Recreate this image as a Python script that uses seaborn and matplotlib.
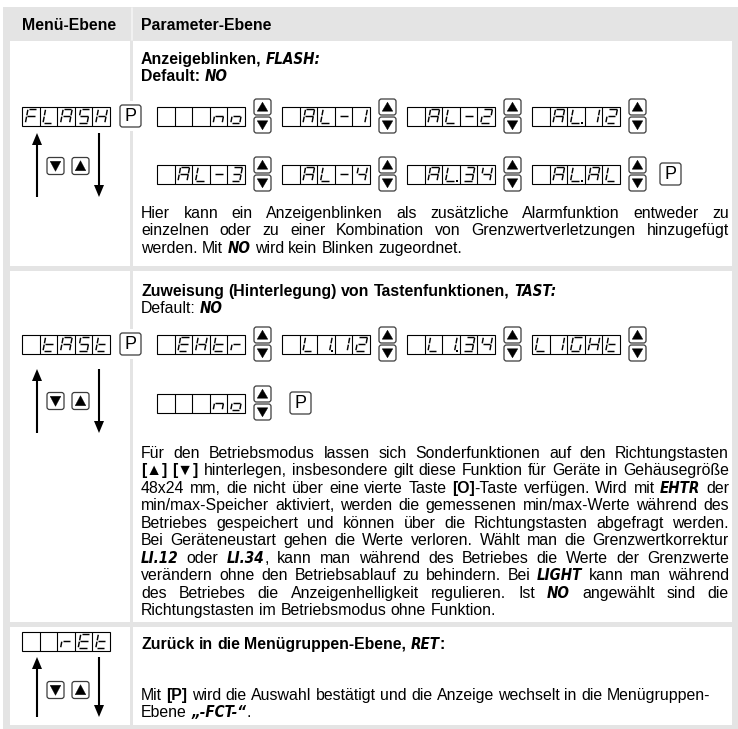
import matplotlib
matplotlib.use("Agg")
import math
import matplotlib.pyplot as plt
import seaborn as sns
from matplotlib import font_manager
from matplotlib.patches import Rectangle, FancyBboxPatch, Polygon

sns.set_theme(style="white")
plt.rcParams["font.family"] = ["Liberation Sans", "DejaVu Sans"]

# ---- page content ----
HEADERS = ["Menü-Ebene", "Parameter-Ebene"]

FLASH_TITLE = ["Anzeigeblinken, §FLASH:§", "Default: §NO§"]
FLASH_MENU = "FLASH"
FLASH_ROW_1 = ["   no", " AL-1", " AL-2", " AL.12"]
FLASH_ROW_2 = [" AL-3", " AL-4", " AL.34", " AL.AL"]
FLASH_TEXT = [
    "Hier kann ein Anzeigenblinken als zusätzliche Alarmfunktion entweder zu",
    "einzelnen oder zu einer Kombination von Grenzwertverletzungen hinzugefügt",
    "werden. Mit §NO§ wird kein Blinken zugeordnet.",
]

TAST_TITLE = ["Zuweisung (Hinterlegung) von Tastenfunktionen, §TAST:§"]
TAST_DEFAULT = "Default: §NO§"
TAST_MENU = " tASt"
TAST_ROW_1 = [" EHtr", " LI.12", " LI.34", "LIGHt"]
TAST_ROW_2 = ["   no"]
TAST_TEXT = [
    "Für den Betriebsmodus lassen sich Sonderfunktionen auf den Richtungstasten",
    "#[▲]# #[▼]# hinterlegen, insbesondere gilt diese Funktion für Geräte in Gehäusegröße",
    "48x24 mm, die nicht über eine vierte Taste #[O]#-Taste verfügen. Wird mit §EHTR§ der",
    "min/max-Speicher aktiviert, werden die gemessenen min/max-Werte während des",
    "Betriebes gespeichert und können über die Richtungstasten abgefragt werden.",
    "Bei Geräteneustart gehen die Werte verloren. Wählt man die Grenzwertkorrektur",
    "§LI.12§ oder §LI.34§, kann man während des Betriebes die Werte der Grenzwerte",
    "verändern ohne den Betriebsablauf zu behindern. Bei §LIGHT§ kann man während",
    "des Betriebes die Anzeigenhelligkeit regulieren. Ist §NO§ angewählt sind die",
    "Richtungstasten im Betriebsmodus ohne Funktion.",
]

RET_TITLE = ["Zurück in die Menügruppen-Ebene, §RET§:"]
RET_MENU = "  rEt"
RET_TEXT = [
    "Mit #[P]# wird die Auswahl bestätigt und die Anzeige wechselt in die Menügruppen-",
    "Ebene §„-FCT-“§.",
]

# seven segment glyphs
SEGS = {
    "a": ((0, 0), (1, 0)), "b": ((1, 0), (1, .5)), "c": ((1, .5), (1, 1)),
    "d": ((0, 1), (1, 1)), "e": ((0, .5), (0, 1)), "f": ((0, 0), (0, .5)),
    "g": ((0, .5), (1, .5)),
}
GLYPHS = {
    "F": "afeg", "L": "fed", "A": "abcefg", "S": "afgcd", "H": "bcefg",
    "n": "ceg", "o": "cdeg", "-": "g", "1": "bc", "I": "bc", "2": "abged",
    "3": "abgcd", "4": "fgbc", "t": "defg", "E": "adefg", "r": "eg", "G": "acdef",
}

W, H = 738, 729
FS = 11.4
LEFT, RIGHT = 141, 729
LINE = 17.5
GRAY = "#e4e4e4"

names = {f.name for f in font_manager.fontManager.ttflist}
if "Liberation Sans Narrow" in names:
    SEG_FONT = dict(family="Liberation Sans Narrow")
else:
    SEG_FONT = dict(family="DejaVu Sans", fontstretch="condensed")

fig = plt.figure(figsize=(W / 100, H / 100), dpi=100)
ax = fig.add_axes([0, 0, 1, 1])
ax.set_xlim(0, W)
ax.set_ylim(H, 0)
ax.axis("off")
renderer = fig.canvas.get_renderer()


def props(bold, seg):
    if seg:
        return dict(fontsize=FS - 0.5, fontweight="bold", fontstyle="italic", **SEG_FONT)
    return dict(fontsize=FS, fontweight="bold" if bold else "normal")


def text_width(s, p):
    t = ax.text(0, 0, s, **p)
    w = t.get_window_extent(renderer).width
    t.remove()
    return w


SPACE = text_width("x x", props(False, False)) - text_width("xx", props(False, False))


def parse_words(line, bold):
    words, seg = [], False
    for word in line.split(" "):
        runs, buf = [], ""
        for ch in word:
            if ch in "#§":
                if buf:
                    runs.append((buf, props(bold, seg)))
                buf = ""
                if ch == "#":
                    bold = not bold
                else:
                    seg = not seg
            else:
                buf += ch
        if buf:
            runs.append((buf, props(bold, seg)))
        words.append(runs)
    return words


def draw_line(x, yc, line, bold=False, justify=False):
    words = parse_words(line, bold)
    widths = [sum(text_width(s, p) for s, p in w) for w in words]
    gap = SPACE
    if justify and len(words) > 1:
        gap = (RIGHT - x - sum(widths)) / (len(words) - 1)
    for w in words:
        for s, p in w:
            ax.text(x, yc + 5.6, s, va="baseline", ha="left", color="black", **p)
            x += text_width(s, p)
        x += gap


def draw_para(y0, lines, justify=True):
    for i, line in enumerate(lines):
        draw_line(LEFT, y0 + i * LINE, line, justify=justify and i < len(lines) - 1)


# ---- key / display icons ----
CELL_W, CELL_H = 17.6, 19


def key_box(x, y, w, h):
    ax.add_patch(FancyBboxPatch((x, y), w, h, boxstyle="round,pad=0,rounding_size=2.5",
                                fc="white", ec="#3c3c3c", lw=0.9))


def triangle(x, y, w, h, up):
    if up:
        pts = [(x + 3.2, y + h - 3.8), (x + w - 3.2, y + h - 3.8), (x + w / 2, y + 3.2)]
    else:
        pts = [(x + 3.2, y + 3.8), (x + w - 3.2, y + 3.8), (x + w / 2, y + h - 3.2)]
    ax.add_patch(Polygon(pts, closed=True, fc="black", ec="black", lw=0.3))


def draw_updown(x, yc):
    key_box(x, yc - 17, 17, 16)
    triangle(x, yc - 17, 17, 16, True)
    key_box(x, yc + 1, 17, 16)
    triangle(x, yc + 1, 17, 16, False)


def draw_p(x, yc, cover=False):
    if cover:
        ax.add_patch(Rectangle((x - 4, yc - 15), 29, 30, fc="white", ec="none"))
    key_box(x, yc - 11, 21, 22)
    ax.text(x + 10.5, yc + 0.5, "P", ha="center", va="center", fontsize=13, color="black")


def split_cells(s):
    cells = []
    for ch in s:
        if ch == "." and cells:
            cells[-1] += "."
        else:
            cells.append(ch)
    return cells


def draw_char(cx, top, ch):
    dot = ch.endswith(".")
    ch = ch.rstrip(".")
    gx, gw, gy, gh, sl = cx + 3.4, 9.0, top + 2.6, 13.8, 2.6

    def pt(u, v):
        return gx + u * gw + sl * (1 - v), gy + v * gh

    for s in GLYPHS.get(ch, ""):
        (u0, v0), (u1, v1) = SEGS[s]
        x0, y0 = pt(u0, v0)
        x1, y1 = pt(u1, v1)
        d = math.hypot(x1 - x0, y1 - y0)
        k = 0.7 / d
        ax.plot([x0 + (x1 - x0) * k, x1 - (x1 - x0) * k],
                [y0 + (y1 - y0) * k, y1 - (y1 - y0) * k],
                color="black", lw=1.05, solid_capstyle="butt")
    if dot:
        ax.plot(gx + gw + 2.6, gy + gh, marker="s", ms=1.9, color="black", mew=0)


def draw_display(x, yc, text):
    cells = split_cells(text)
    top = yc - CELL_H / 2
    ax.add_patch(Rectangle((x, top), CELL_W * len(cells), CELL_H, fc="white", ec="black", lw=0.8))
    for i in range(1, len(cells)):
        ax.plot([x + i * CELL_W] * 2, [top, top + CELL_H], color="black", lw=0.8)
    for i, ch in enumerate(cells):
        draw_char(x + i * CELL_W, top, ch)


def draw_row(yc, items, p_at=None):
    x = 157
    for item in items:
        draw_display(x, yc, item)
        draw_updown(x + 5 * CELL_W + 9, yc)
        x += 125
    if p_at is not None:
        draw_p(p_at, yc)


def draw_nav(yb, tip, bottom):
    ax.plot([37, 37], [bottom, tip + 9], color="black", lw=1.5, solid_capstyle="butt")
    ax.add_patch(Polygon([(32, tip + 12), (42, tip + 12), (37, tip)], fc="black", ec="none"))
    key_box(47, yb - 8.5, 17, 17)
    triangle(47, yb - 8.5, 17, 17, False)
    key_box(72, yb - 8.5, 17, 17)
    triangle(72, yb - 8.5, 17, 17, True)
    ax.plot([99, 99], [tip, bottom - 9], color="black", lw=1.5, solid_capstyle="butt")
    ax.add_patch(Polygon([(94, bottom - 12), (104, bottom - 12), (99, bottom)], fc="black", ec="none"))


# ---- table frame ----
ax.add_patch(Rectangle((3, 7), W - 3, H - 7, fc=GRAY, ec="none"))
for top, bottom in [(41, 266), (271, 622), (627, 725)]:
    ax.add_patch(Rectangle((10, top), 120, bottom - top, fc="white", ec="none"))
    ax.add_patch(Rectangle((133, top), 599, bottom - top, fc="white", ec="none"))
ax.plot([131.5, 131.5], [8, 40], color="#f4f4f4", lw=1.2)

draw_line(22, 24, HEADERS[0], bold=True)
draw_line(LEFT, 24, HEADERS[1], bold=True)

# row 1: FLASH
draw_line(LEFT, 58, FLASH_TITLE[0], bold=True)
draw_line(LEFT, 75.5, FLASH_TITLE[1], bold=True)
draw_display(22, 116, FLASH_MENU)
draw_p(120, 116, cover=True)
draw_nav(166, 133, 197)
draw_row(116, FLASH_ROW_1)
draw_row(174, FLASH_ROW_2, p_at=660)
draw_para(212, FLASH_TEXT)

# row 2: TAST
draw_line(LEFT, 290, TAST_TITLE[0], bold=True)
draw_line(LEFT, 307.5, TAST_DEFAULT)
draw_display(22, 344, TAST_MENU)
draw_p(120, 344, cover=True)
draw_nav(401, 369, 433)
draw_row(344, TAST_ROW_1)
draw_row(403, TAST_ROW_2, p_at=290)
draw_para(452, TAST_TEXT)

# row 3: RET
draw_line(LEFT, 643, RET_TITLE[0], bold=True)
draw_display(22, 641, RET_MENU)
draw_nav(690, 657, 717)
draw_para(694, RET_TEXT, justify=False)

fig.savefig("out.png", dpi=100)
